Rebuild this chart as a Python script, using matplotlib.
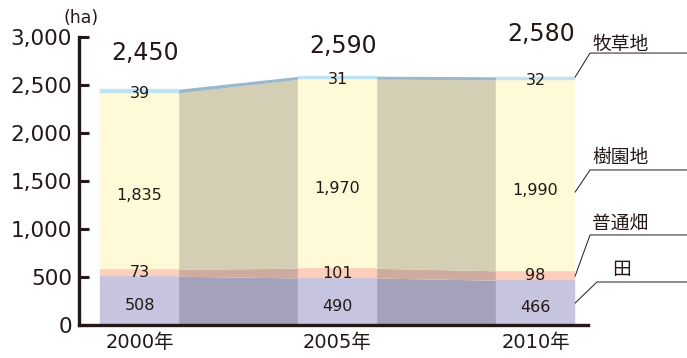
import numpy as np
import matplotlib
matplotlib.use("Agg")
import matplotlib.pyplot as plt

plt.rcParams['font.family'] = ['DejaVu Sans', 'Noto Sans CJK JP']

# data (ha)
years = ["2000年", "2005年", "2010年"]
categories = ["田", "普通畑", "樹園地", "牧草地"]
paddy = [508, 490, 466]
upland = [73, 101, 98]
orchard = [1835, 1970, 1990]
pasture = [39, 31, 32]
totals = ["2,450", "2,590", "2,580"]
yticks = [0, 500, 1000, 1500, 2000, 2500, 3000]

ink = "#231815"
bar_cols = ["#c6c4df", "#fccfbd", "#fef9d6", "#bfe3f2"]
link_cols = ["#a4a2ba", "#cfaa9e", "#d4cfb4", "#9bb8cb"]

series = np.array([paddy, upland, orchard, pasture], dtype=float)
bottoms = np.vstack([np.zeros(3), np.cumsum(series, axis=0)[:-1]])
tops = bottoms + series

fig = plt.figure(figsize=(6.87, 3.58), dpi=100)
ax = fig.add_axes([0.115, 0.0922, 0.741, 0.8044])

x = np.arange(len(years))
w = 0.40

# connecting bands between bars
for i in range(len(x) - 1):
    xs = [x[i] + w / 2 - 0.01, x[i + 1] - w / 2 + 0.01]
    for k in range(len(categories)):
        ax.fill_between(xs, [bottoms[k, i], bottoms[k, i + 1]],
                        [tops[k, i], tops[k, i + 1]],
                        color=link_cols[k], lw=0, zorder=1)

# bars
for k in range(len(categories)):
    ax.bar(x, series[k], w, bottom=bottoms[k], color=bar_cols[k],
           edgecolor=bar_cols[k], lw=0.3, zorder=2)

# values inside the segments
label_frac = [0.4, 0.5, 0.42, 0.5]
for k in range(len(categories)):
    for i in range(len(x)):
        yy = bottoms[k, i] + series[k, i] * label_frac[k]
        if k == 3:
            yy -= 20
        ax.text(x[i], yy, f"{int(series[k, i]):,}", ha="center", va="center",
                fontsize=11.5, color=ink, zorder=3)

# totals
total_y = [2830, 2905, 3035]
for i in range(len(x)):
    ax.text(x[i] + w / 2, total_y[i], totals[i], ha="right", va="center",
            fontsize=17, color=ink, zorder=3)

# callouts on the right
start_y = [229, 510, 1385, 2583]
elbow = [(2.31, 448), (2.275, 938), (2.275, 1615), (2.275, 2833)]
text_pos = [(2.434, 573, "center"), (2.285, 1062, "left"),
            (2.285, 1750, "left"), (2.285, 2927, "left")]
for k in range(len(categories)):
    ex, ey = elbow[k]
    ax.plot([x[-1] + w / 2, ex, 2.77], [start_y[k], ey, ey], color=ink,
            lw=0.7, clip_on=False, zorder=4)
    tx, ty, ha = text_pos[k]
    ax.text(tx, ty, categories[k], ha=ha, va="center", fontsize=13.5,
            color=ink)

ax.set_xlim(-0.3056, 2.2652)
ax.set_ylim(0, 3000)
ax.set_xticks(x)
ax.set_xticklabels(years)
ax.set_yticks(yticks)
ax.set_yticklabels([f"{v:,}" for v in yticks])
ax.tick_params(axis="y", direction="in", length=7, width=2.2, color=ink,
               labelsize=15.5, labelcolor=ink, pad=5)
ax.tick_params(axis="x", length=0, labelsize=14, labelcolor=ink, pad=6)
for s in ["top", "right"]:
    ax.spines[s].set_visible(False)
for s in ["left", "bottom"]:
    ax.spines[s].set_linewidth(2.4)
    ax.spines[s].set_color(ink)
    ax.spines[s].set_zorder(5)

fig.text(81 / 687, 1 - 18 / 358, "(ha)", ha="center", va="center",
         fontsize=12.5, color=ink)

fig.savefig("out.png", dpi=100)
